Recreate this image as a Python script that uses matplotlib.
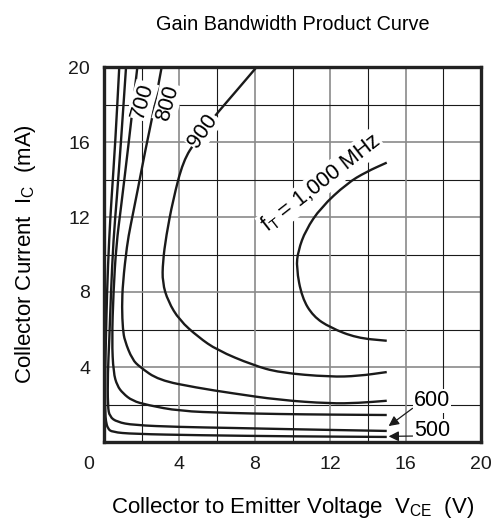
import numpy as np
import matplotlib
matplotlib.use("Agg")
import matplotlib.pyplot as plt
from matplotlib.path import Path
from matplotlib.patches import PathPatch
from matplotlib.transforms import ScaledTranslation

plt.rcParams["font.family"] = ["Liberation Sans", "DejaVu Sans"]
plt.rcParams["mathtext.default"] = "regular"

# curves: (VCE in V, IC in mA), ordered along each curve
v500 = [0.81, 0.6, 0.4, 0.27, 0.16, 0.1, 0.06, 0.06, 0.1, 0.2, 0.42, 1.55, 5.0, 10.0, 15.0]
i500 = [20.0, 16.0, 13.0, 10.8, 8.0, 5.4, 3.7, 1.6, 1.1, 0.72, 0.53, 0.43, 0.36, 0.3, 0.27]

v600 = [1.17, 0.9, 0.68, 0.5, 0.37, 0.28, 0.2, 0.2, 0.3, 0.69, 1.55, 4.0, 6.8, 10.0, 15.0]
i600 = [20.0, 16.0, 13.0, 10.8, 8.0, 5.4, 3.7, 1.9, 1.35, 1.07, 0.9, 0.8, 0.75, 0.68, 0.59]

v700 = [1.77, 1.27, 0.9, 0.65, 0.5, 0.42, 0.5, 0.7, 1.0, 1.5, 2.3, 4.0, 6.5, 9.3, 12.0, 15.0]
i700 = [20.0, 15.6, 12.5, 10.5, 8.0, 5.4, 3.7, 3.0, 2.6, 2.2, 1.97, 1.65, 1.55, 1.49, 1.46, 1.44]

v800 = [3.06, 2.6, 2.2, 1.8, 1.4, 1.22, 1.0, 0.95, 1.0, 1.1, 1.5, 1.9, 2.9, 4.9, 6.8, 9.3, 12.0, 13.5, 15.0]
i800 = [20.0, 17.5, 15.6, 13.5, 11.5, 10.5, 8.5, 7.2, 6.0, 5.4, 4.4, 4.0, 3.3, 2.9, 2.6, 2.24, 2.05, 2.08, 2.2]

v900 = [8.1, 7.0, 5.8, 4.9, 4.2, 3.66, 3.3, 3.12, 3.1, 3.4, 4.0, 5.0, 6.0, 7.9, 9.3, 12.0, 13.5, 15.0]
i900 = [20.0, 18.7, 17.3, 16.1, 15.0, 12.9, 11.0, 9.6, 8.5, 7.5, 6.5, 5.6, 4.9, 4.1, 3.7, 3.47, 3.52, 3.73]

v1000 = [15.0, 13.9, 12.9, 11.5, 10.7, 10.3, 10.2, 10.5, 11.1, 12.0, 13.4, 15.0]
i1000 = [14.9, 14.4, 13.8, 12.5, 11.3, 10.2, 9.3, 7.7, 6.7, 6.1, 5.55, 5.4]

x_ticks = [0, 4, 8, 12, 16, 20]
y_ticks = [4, 8, 12, 16, 20]


def smooth_path(xs, ys):
    # quadratic bezier through midpoints, read points act as control points
    pts = list(zip(xs, ys))
    verts = [pts[0]]
    codes = [Path.MOVETO]
    for k in range(1, len(pts) - 1):
        mid = ((pts[k][0] + pts[k + 1][0]) / 2, (pts[k][1] + pts[k + 1][1]) / 2)
        if k == 1:
            verts.append(((pts[0][0] + pts[1][0]) / 2, (pts[0][1] + pts[1][1]) / 2))
            codes.append(Path.LINETO)
        verts += [pts[k], mid]
        codes += [Path.CURVE3, Path.CURVE3]
    verts.append(pts[-1])
    codes.append(Path.LINETO)
    return Path(verts, codes)


fig = plt.figure(figsize=(4.97, 5.27), dpi=100)
ax = fig.add_axes([104 / 497, 85 / 527, 377 / 497, 375 / 527])

# grid: gray at labelled lines, black at in-between lines
for g in range(2, 20, 2):
    col, lw = ("#8a8a8a", 1.2) if g % 4 == 0 else ("#1a1a1a", 0.8)
    ax.axvline(g, color=col, lw=lw, zorder=1)
    ax.axhline(g, color=col, lw=lw, zorder=1)

for vv, ii in [(v500, i500), (v600, i600), (v700, i700), (v800, i800), (v900, i900), (v1000, i1000)]:
    ax.add_patch(PathPatch(smooth_path(vv, ii), facecolor="none", edgecolor="#1a1a1a",
                           lw=1.7, capstyle="butt", zorder=3))

box = dict(facecolor="white", edgecolor="none", pad=1.0)
fs_lab = 15.5
ax.text(2.05, 18.2, "700", rotation=74, fontsize=fs_lab, ha="center", va="center", bbox=box, zorder=4)
ax.text(3.4, 18.1, "800", rotation=74, fontsize=fs_lab, ha="center", va="center", bbox=box, zorder=4)
ax.text(5.25, 16.6, "900", rotation=55, fontsize=fs_lab, ha="center", va="center", bbox=box, zorder=4)
ax.text(11.5, 13.8, "f$_T$ = 1,000 MHz", rotation=38, fontsize=fs_lab, ha="center", va="center",
        bbox=box, zorder=4)

for txt, tip, pos in [("600", (15.1, 0.85), (17.4, 2.2)), ("500", (15.1, 0.3), (17.4, 0.6))]:
    ax.annotate(txt, xy=tip, xytext=pos, fontsize=fs_lab, ha="center", va="center",
                bbox=box, zorder=4,
                arrowprops=dict(arrowstyle="-|>", color="#1a1a1a", lw=0.9, mutation_scale=15,
                                shrinkA=0, shrinkB=0, relpos=(0.05, 0.25)))

ax.set_xlim(0, 20)
ax.set_ylim(0, 20)
ax.set_xticks(x_ticks)
ax.set_yticks(y_ticks)
ax.tick_params(length=0, labelsize=14, pad=10, colors="#1a1a1a")
for sp in ax.spines.values():
    sp.set_linewidth(2.4)
    sp.set_color("#222222")
    sp.set_zorder(5)

# the corner "0" sits left of the axis
lab0 = ax.get_xticklabels()[0]
lab0.set_transform(lab0.get_transform() + ScaledTranslation(-0.15, 0, fig.dpi_scale_trans))

ax.set_xlabel("Collector to Emitter Voltage  V$_{CE}$  (V)", fontsize=16, labelpad=16)
ax.set_ylabel("Collector Current  I$_C$  (mA)", fontsize=16, labelpad=22)
ax.set_title("Gain Bandwidth Product Curve", fontsize=14.3, pad=27)

fig.savefig("out.png", dpi=100)
